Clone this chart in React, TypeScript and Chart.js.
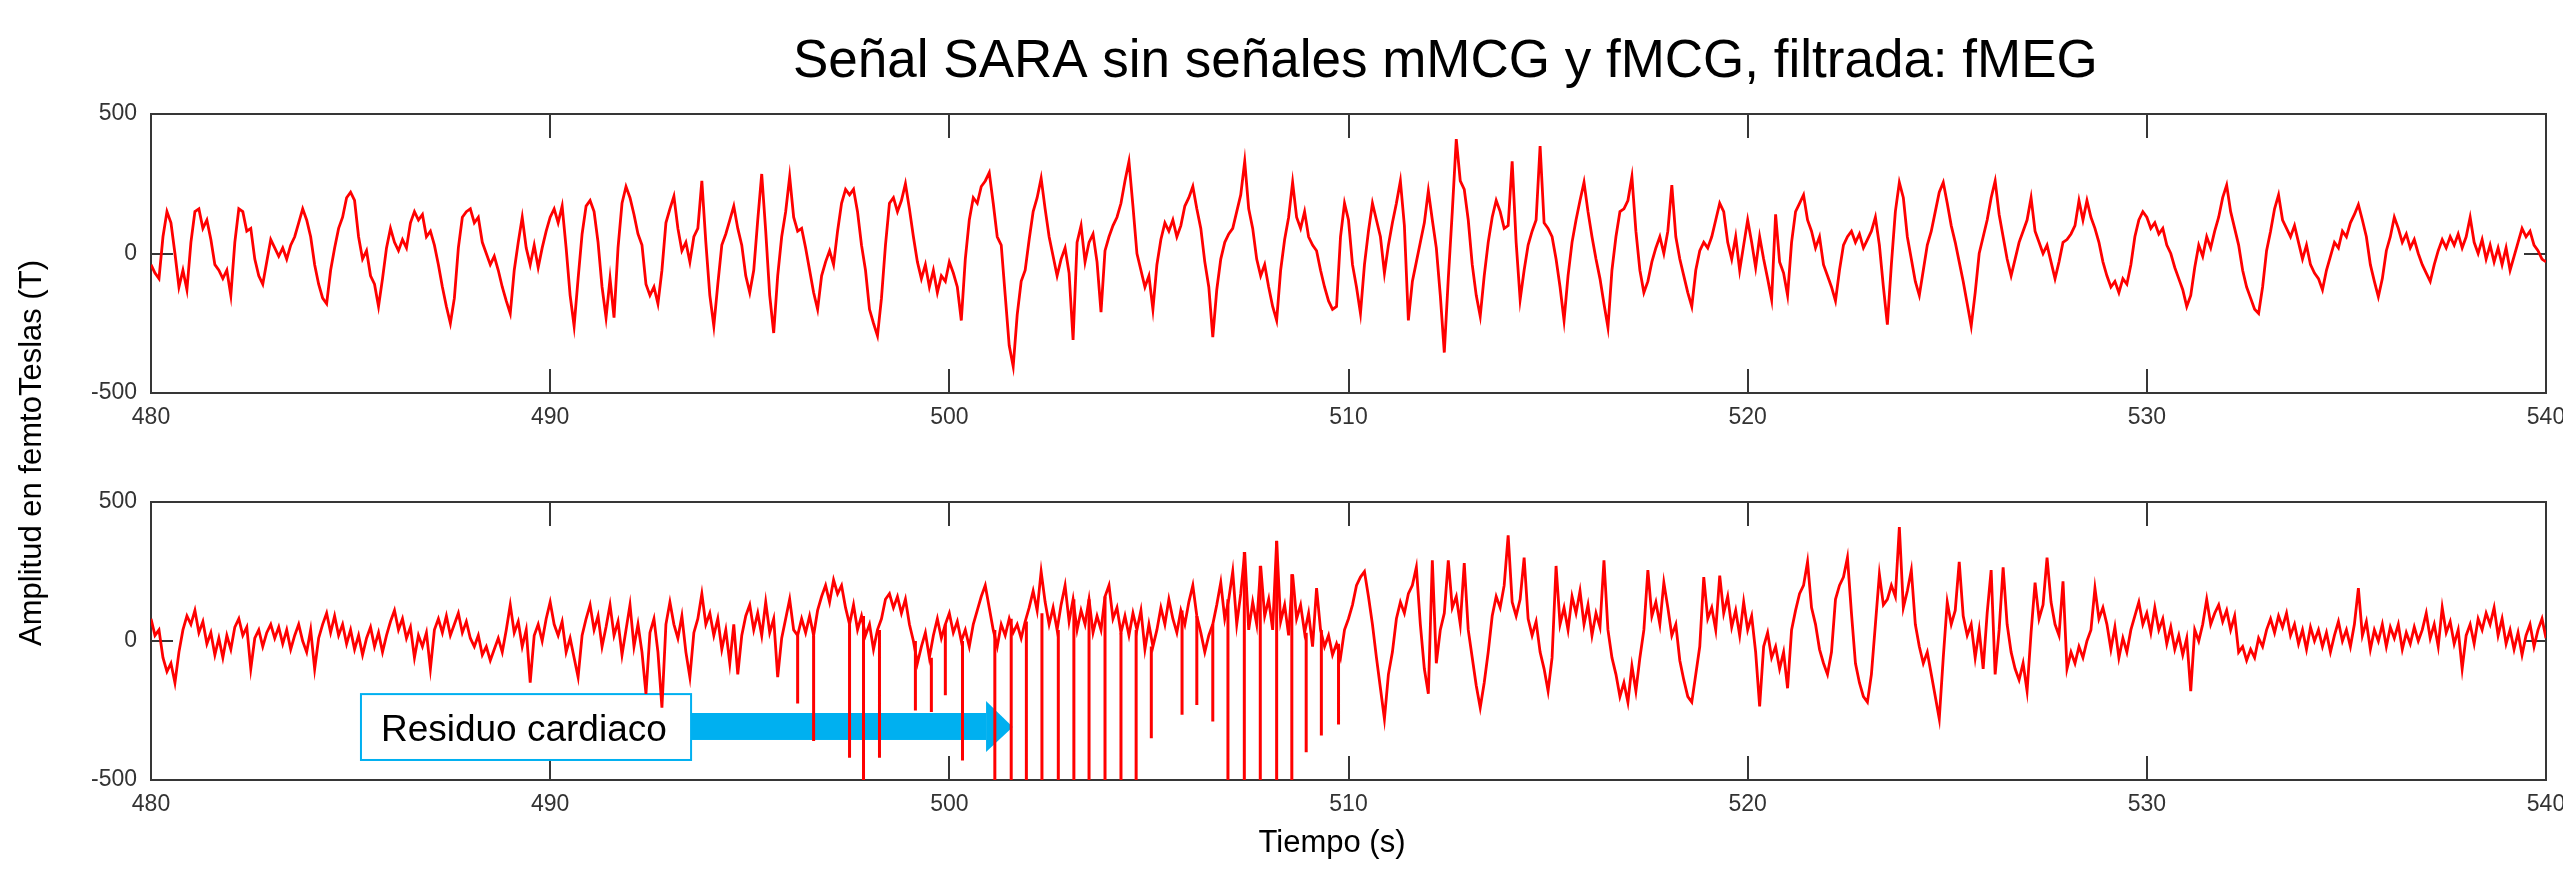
import React, { useEffect, useRef } from "react";
import { Chart, registerables } from "chart.js";

Chart.register(...registerables);

// ---------------- data ----------------
const timeStart = 480; // s
const timeStep = 0.1; // s between samples
const xTickValues = [480, 490, 500, 510, 520, 530, 540];
const yTickValues = [-500, 0, 500];

// upper panel (fT), one value every 0.1 s from 480 s to 540 s
const topSignal = [
  -40, -70, -90, 60, 150, 110, 0, -120, -60, -130,
  40, 150, 160, 90, 120, 50, -40, -60, -90, -60,
  -150, 40, 160, 150, 80, 90, -20, -80, -110, -30,
  50, 20, -10, 20, -20, 30, 60, 110, 160, 120,
  60, -40, -110, -160, -180, -60, 20, 90, 130, 200,
  220, 190, 60, -20, 10, -80, -110, -190, -90, 20,
  90, 40, 10, 50, 20, 110, 150, 120, 140, 60,
  80, 30, -40, -120, -190, -250, -160, 20, 130, 150,
  160, 110, 130, 40, 0, -40, -10, -60, -120, -170,
  -215, -60, 40, 130, 20, -40, 30, -50, 20, 80,
  130, 160, 110, 170, 20, -150, -260, -90, 70, 170,
  190, 150, 40, -120, -230, -90, -230, 20, 180, 240,
  200, 140, 70, 30, -110, -150, -120, -180, -60, 110,
  160, 205, 90, 10, 40, -30, 60, 90, 260, 40,
  -150, -260, -110, 30, 70, 120, 170, 90, 30, -80,
  -140, -60, 120, 285, 80, -150, -285, -80, 60, 150,
  275, 130, 80, 90, 20, -60, -140, -200, -80, -30,
  10, -40, 80, 180, 230, 210, 230, 150, 30, -60,
  -200, -250, -295, -160, 30, 180, 200, 150, 190, 250,
  160, 60, -30, -90, -40, -120, -60, -140, -80, -100,
  -30, -70, -120, -240, -20, 120, 200, 180, 240, 260,
  290, 180, 60, 30, -150, -330, -405, -220, -100, -60,
  50, 150, 200, 270, 160, 60, -10, -80, -20, 20,
  -70, -310, 40, 100, -30, 40, 70, -30, -210, 10,
  60, 100, 130, 180, 260, 330, 170, 0, -60, -120,
  -80, -200, -40, 50, 110, 80, 120, 60, 100, 170,
  200, 240, 160, 90, -30, -120, -300, -130, -20, 40,
  70, 90, 150, 210, 330, 160, 90, -20, -80, -40,
  -120, -190, -240, -60, 50, 130, 255, 130, 90, 150,
  60, 30, 10, -60, -120, -170, -200, -190, 60, 180,
  120, -40, -120, -215, -40, 80, 180, 120, 60, -70,
  30, 110, 180, 260, 100, -240, -100, -30, 40, 110,
  225, 120, 20, -150, -355, -90, 150, 410, 260, 230,
  120, -40, -150, -225, -80, 40, 130, 190, 150, 90,
  100, 330, 40, -165, -60, 30, 80, 120, 385, 110,
  90, 60, -20, -120, -240, -80, 40, 120, 190, 255,
  150, 60, -20, -90, -180, -265, -60, 60, 150, 160,
  190, 275, 80, -60, -140, -100, -30, 20, 60, 0,
  80, 245, 60, -20, -80, -140, -190, -60, 10, 40,
  20, 60, 120, 180, 150, 40, -20, 60, -60, 30,
  120, 40, -50, 60, -20, -90, -165, 140, -30, -70,
  -150, 40, 150, 180, 210, 120, 80, 20, 60, -40,
  -80, -120, -170, -60, 30, 60, 80, 40, 70, 20,
  50, 80, 130, 30, -120, -255, -40, 150, 255, 200,
  60, -20, -100, -150, -60, 30, 80, 150, 220, 255,
  180, 100, 40, -30, -100, -180, -260, -140, 0, 60,
  120, 200, 260, 140, 60, -20, -80, -20, 40, 80,
  120, 200, 80, 40, 0, 30, -30, -90, -30, 40,
  50, 70, 100, 190, 120, 190, 130, 90, 40, -30,
  -80, -120, -100, -140, -90, -110, -40, 60, 120, 150,
  130, 90, 110, 70, 90, 30, 0, -50, -90, -130,
  -190, -150, -50, 30, -10, 60, 20, 80, 130, 200,
  245, 150, 90, 30, -60, -120, -160, -200, -215, -120,
  10, 80, 160, 210, 120, 90, 60, 100, 40, -20,
  30, -40, -70, -90, -130, -60, -10, 40, 20, 80,
  60, 110, 140, 175, 120, 60, -40, -100, -155, -90,
  10, 60, 130, 90, 40, 70, 20, 50, 0, -40,
  -70, -100, -40, 10, 50, 20, 60, 30, 70, 20,
  60, 130, 40, 0, 50, -20, 30, -30, 20, -40,
  20, -60, -10, 40, 90, 60, 80, 30, 10, -20,
  -30,
];

// lower panel (fT), one value every 0.1 s from 480 s to 540 s
const bottomSignal = [
  80, 20, 40, -60, -110, -80, -150, -40, 40, 90,
  60, 110, 30, 70, -10, 30, -50, 10, -60, 20,
  -30, 50, 80, 20, 50, -100, 10, 40, -20, 30,
  60, 10, 50, -10, 40, -30, 20, 60, 0, -40,
  40, -100, 10, 60, 100, 30, 90, 20, 60, -10,
  40, -30, 20, -50, 10, 50, -20, 30, -40, 20,
  70, 110, 40, 80, 10, 50, -60, 20, -20, 30,
  -100, 40, 80, 30, 90, 20, 60, 100, 30, 70,
  10, -20, 20, -50, -20, -70, -30, 10, -40, 40,
  130, 30, 70, -20, 40, -150, 20, 60, 0, 80,
  140, 60, 20, 70, -40, 10, -60, -130, 20, 80,
  130, 40, 90, -20, 50, 130, 20, 70, -50, 40,
  130, -20, 60, -40, -190, 30, 80, -40, -240, 60,
  140, 60, 10, 90, -40, -130, 30, 80, 170, 60,
  100, 20, 80, -30, 40, -80, 60, -120, 20, 90,
  130, 40, 100, 20, 140, 30, 80, -130, 10, 80,
  150, 40, 20, 80, 30, 90, 20, 110, 160, 200,
  140, 220, 170, 200, 120, 60, 130, 40, 90, 20,
  60, -30, 40, 80, 150, 170, 120, 160, 100, 150,
  60, 0, -80, -20, 30, -60, 20, 80, 10, 60,
  100, 30, 70, 0, 40, -20, 60, 110, 160, 200,
  120, 40, -20, 60, 20, 80, 30, 60, 10, 70,
  120, 180, 110, 250, 140, 60, 120, 40, 130, 200,
  70, 150, 40, 110, 60, 150, 30, 90, 40, 160,
  200, 80, 120, 30, 90, 20, 100, 40, 110, -30,
  60, -20, 40, 120, 60, 150, 80, 30, 110, 60,
  140, 200, 90, 30, -40, 20, 60, 130, 210, 80,
  150, 250, 60, 170, 320, 40, 140, 60, 270, 90,
  150, 40, 360, 70, 130, 20, 240, 80, 130, 30,
  100, -20, 190, 40, -20, 20, -50, -10, -60, 40,
  80, 130, 200, 230, 250, 160, 60, -60, -170, -280,
  -120, -40, 80, 140, 100, 170, 200, 265, 60, -100,
  -190, 290, -80, 40, 100, 290, 120, 160, 60, 280,
  40, -60, -160, -240, -150, -40, 90, 160, 120, 200,
  380, 140, 90, 150, 300, 80, 20, 70, -40, -100,
  -180, -60, 270, 60, 120, 40, 160, 100, 180, 60,
  130, 20, 100, 50, 290, 40, -60, -120, -200, -150,
  -220, -90, -180, -60, 40, 255, 90, 140, 60, 210,
  120, 20, 60, -70, -140, -200, -220, -120, -20, 230,
  80, 120, 40, 235, 100, 160, 50, 110, 20, 140,
  40, 90, -40, -235, -20, 30, -60, -20, -100, -40,
  -170, 40, 110, 170, 200, 285, 120, 60, -30, -80,
  -120, -40, 150, 200, 230, 300, 100, -80, -150, -200,
  -220, -120, 60, 240, 130, 150, 200, 160, 410, 120,
  180, 255, 60, -20, -80, -40, -120, -200, -280, -60,
  140, 60, 110, 285, 90, 20, 60, -60, 40, -100,
  100, 255, -120, 40, 265, 60, -40, -100, -140, -80,
  -180, 30, 210, 80, 130, 300, 140, 60, 20, 215,
  -100, -40, -80, -20, -60, 0, 40, 190, 80, 120,
  60, -30, 50, -60, 10, -40, 40, 90, 140, 60,
  100, 30, 120, 40, 80, -10, 50, -30, 20, -50,
  10, -180, 40, 0, 60, 150, 60, 100, 130, 70,
  110, 40, 90, -40, -20, -70, -30, -60, 10, -20,
  40, 80, 30, 90, 50, 100, 20, 60, -10, 40,
  -30, 50, 0, 40, -20, 30, -40, 20, 70, 0,
  40, -20, 60, 190, 20, 70, -30, 40, 0, 60,
  -20, 50, 10, 60, -30, 30, -10, 50, 0, 40,
  100, 10, 60, -20, 120, 30, 70, -10, 40, -100,
  20, 60, -10, 80, 40, 100, 60, 120, 20, 80,
  -10, 40, -30, 30, -50, 20, 60, -20, 40, 80,
  10,
];

// cardiac residue spikes in the lower panel (time in s, start and end in fT)
const residueTimes = [
  496.2, 496.6, 497.5, 497.85, 498.25, 499.15, 499.55, 499.9, 500.33, 501.14,
  501.55, 501.93, 502.32, 502.73, 503.12, 503.5, 503.9, 504.3, 504.68, 505.06,
  505.83, 506.2, 506.6, 506.98, 507.39, 507.79, 508.2, 508.58, 508.94, 509.32,
  509.75,
];
const residueFrom = [
  20, 20, 60, 90, 40, 0, -60, 60, 0, 40,
  80, 70, 100, 40, 150, 150, 160, 30, 40, -20,
  110, 90, 60, 150, 320, 270, 360, 240, 30, 40,
  -10,
];
const residueTo = [
  -225, -360, -420, -500, -420, -250, -255, -195, -430, -500,
  -500, -500, -500, -500, -500, -500, -500, -500, -500, -350,
  -265, -230, -290, -500, -500, -500, -500, -500, -400, -340,
  -300,
];

const titleText = "Señal SARA sin señales mMCG y fMCG, filtrada: fMEG";
const yAxisText = "Amplitud en femtoTeslas (T)";
const xAxisText = "Tiempo (s)";
const noteText = "Residuo cardiaco";

// ---------------- layout / style ----------------
const CANVAS_W = 2563;
const CANVAS_H = 873;
const FONT = "'Liberation Sans', Arial, Helvetica, sans-serif";
const AXIS_COLOR = "#363636";
const TICK_COLOR = "#333333";
const TRACE_COLOR = "#ff0000";
const NOTE_COLOR = "#00b0f0";

// annotation geometry in data units (s, fT) of the lower panel
const noteLayout = {
  boxLeft: 485.26,
  boxRight: 493.53,
  boxTop: -191,
  boxBottom: -428,
  textX: 485.76,
  textY: -360,
  shaftTop: -259,
  shaftBottom: -356,
  headBase: 500.92,
  headTop: -216,
  headBottom: -399,
  tipX: 501.59,
  tipY: -309,
};

function toPoints(values: number[]) {
  return values.map((v, i) => ({
    x: Math.round((timeStart + i * timeStep) * 100) / 100,
    y: v,
  }));
}

function residuePoints() {
  const pts: { x: number; y: number | null }[] = [];
  residueTimes.forEach((t, i) => {
    pts.push({ x: t, y: residueFrom[i] });
    pts.push({ x: t, y: residueTo[i] });
    pts.push({ x: t, y: null });
  });
  return pts;
}

function makeScales(xHeight: number) {
  const grid = (len: number) => ({
    display: true,
    drawOnChartArea: false,
    drawTicks: true,
    tickLength: len,
    color: AXIS_COLOR,
    lineWidth: 2,
  });
  const border = { display: true, color: AXIS_COLOR, width: 2 };
  const setX = (s: any) => {
    s.ticks = xTickValues.map((v) => ({ value: v }));
  };
  const setY = (s: any) => {
    s.ticks = yTickValues.map((v) => ({ value: v }));
  };
  const tickFont = { family: FONT, size: 23, lineHeight: 1.2 };
  return {
    x: {
      type: "linear",
      position: "bottom",
      min: 480,
      max: 540,
      afterBuildTicks: setX,
      afterFit: (s: any) => {
        s.height = xHeight;
        s.paddingLeft = 0;
        s.paddingRight = 0;
      },
      grid: grid(-24),
      border,
      ticks: {
        display: true,
        padding: 35,
        color: TICK_COLOR,
        font: tickFont,
        maxRotation: 0,
        autoSkip: false,
      },
    },
    xTop: {
      type: "linear",
      position: "top",
      min: 480,
      max: 540,
      afterBuildTicks: setX,
      afterFit: (s: any) => {
        s.height = 0;
        s.paddingLeft = 0;
        s.paddingRight = 0;
      },
      grid: grid(-24),
      border,
      ticks: { display: false },
    },
    y: {
      type: "linear",
      position: "left",
      min: -500,
      max: 500,
      afterBuildTicks: setY,
      afterFit: (s: any) => {
        s.width = 151;
        s.paddingTop = 0;
        s.paddingBottom = 0;
      },
      grid: grid(-22),
      border,
      ticks: {
        display: true,
        padding: 36,
        color: TICK_COLOR,
        font: tickFont,
      },
    },
    yRight: {
      type: "linear",
      position: "right",
      min: -500,
      max: 500,
      afterBuildTicks: setY,
      afterFit: (s: any) => {
        s.width = 0;
        s.paddingTop = 0;
        s.paddingBottom = 0;
      },
      grid: grid(-22),
      border,
      ticks: { display: false },
    },
  };
}

const upperDecor = {
  id: "upperDecor",
  afterDraw(chart: any) {
    const ctx = chart.ctx;
    ctx.save();
    ctx.fillStyle = "#000000";
    ctx.textBaseline = "alphabetic";
    ctx.textAlign = "left";
    ctx.font = `53px ${FONT}`;
    ctx.fillText(titleText, 793, 77);
    ctx.translate(41, 453);
    ctx.rotate(-Math.PI / 2);
    ctx.textAlign = "center";
    ctx.font = `31px ${FONT}`;
    ctx.fillText(yAxisText, 0, 0);
    ctx.restore();
  },
};

const lowerDecor = {
  id: "lowerDecor",
  beforeDatasetsDraw(chart: any) {
    const ctx = chart.ctx;
    const xs = chart.scales.x;
    const ys = chart.scales.y;
    const px = (v: number) => xs.getPixelForValue(v);
    const py = (v: number) => ys.getPixelForValue(v);
    const n = noteLayout;
    ctx.save();
    // arrow
    ctx.fillStyle = NOTE_COLOR;
    ctx.fillRect(px(n.boxRight), py(n.shaftTop), px(n.headBase) - px(n.boxRight), py(n.shaftBottom) - py(n.shaftTop));
    ctx.beginPath();
    ctx.moveTo(px(n.headBase), py(n.headTop));
    ctx.lineTo(px(n.tipX), py(n.tipY));
    ctx.lineTo(px(n.headBase), py(n.headBottom));
    ctx.closePath();
    ctx.fill();
    // box
    const bx = px(n.boxLeft);
    const by = py(n.boxTop);
    const bw = px(n.boxRight) - bx;
    const bh = py(n.boxBottom) - by;
    ctx.fillStyle = "#ffffff";
    ctx.fillRect(bx, by, bw, bh);
    ctx.strokeStyle = NOTE_COLOR;
    ctx.lineWidth = 2;
    ctx.strokeRect(bx, by, bw, bh);
    ctx.fillStyle = "#000000";
    ctx.font = `37px ${FONT}`;
    ctx.textAlign = "left";
    ctx.textBaseline = "alphabetic";
    ctx.fillText(noteText, px(n.textX), py(n.textY));
    ctx.restore();
  },
  afterDraw(chart: any) {
    const ctx = chart.ctx;
    ctx.save();
    ctx.fillStyle = "#000000";
    ctx.font = `31px ${FONT}`;
    ctx.textAlign = "center";
    ctx.textBaseline = "alphabetic";
    ctx.fillText(xAxisText, 1332, 852);
    ctx.restore();
  },
};

function baseOptions(padding: any, xHeight: number) {
  return {
    responsive: false,
    maintainAspectRatio: false,
    animation: false,
    devicePixelRatio: 1,
    events: [],
    layout: { padding },
    plugins: {
      legend: { display: false },
      tooltip: { enabled: false },
      title: { display: false },
    },
    scales: makeScales(xHeight),
  };
}

export default function App() {
  const upperRef = useRef<HTMLCanvasElement | null>(null);
  const lowerRef = useRef<HTMLCanvasElement | null>(null);

  useEffect(() => {
    if (!upperRef.current || !lowerRef.current) return;
    const lineStyle = {
      borderColor: TRACE_COLOR,
      backgroundColor: TRACE_COLOR,
      borderWidth: 2.8,
      pointRadius: 0,
      tension: 0,
      fill: false,
      borderJoinStyle: "miter",
      xAxisID: "x",
      yAxisID: "y",
    };

    const upper = new Chart(upperRef.current, {
      type: "line",
      data: {
        datasets: [{ ...lineStyle, label: "fMEG superior", data: toPoints(topSignal) }],
      },
      options: baseOptions({ top: 114, left: 0, right: 17, bottom: CANVAS_H - 393 - 60 }, 60) as any,
      plugins: [upperDecor],
    } as any);

    const lower = new Chart(lowerRef.current, {
      type: "line",
      data: {
        datasets: [
          { ...lineStyle, label: "fMEG inferior", data: toPoints(bottomSignal) },
          {
            ...lineStyle,
            label: "Residuo cardiaco",
            borderWidth: 3,
            spanGaps: false,
            data: residuePoints(),
          },
        ],
      },
      options: baseOptions({ top: 502, left: 0, right: 17, bottom: CANVAS_H - 780 - 60 }, 60) as any,
      plugins: [lowerDecor],
    } as any);

    return () => {
      upper.destroy();
      lower.destroy();
    };
  }, []);

  const canvasStyle: React.CSSProperties = {
    position: "absolute",
    left: 0,
    top: 0,
    width: CANVAS_W,
    height: CANVAS_H,
  };

  return (
    <div
      style={{
        position: "absolute",
        left: 0,
        top: 0,
        width: CANVAS_W,
        height: CANVAS_H,
        background: "#ffffff",
        overflow: "hidden",
      }}
    >
      <canvas ref={upperRef} width={CANVAS_W} height={CANVAS_H} style={canvasStyle} />
      <canvas ref={lowerRef} width={CANVAS_W} height={CANVAS_H} style={canvasStyle} />
    </div>
  );
}
